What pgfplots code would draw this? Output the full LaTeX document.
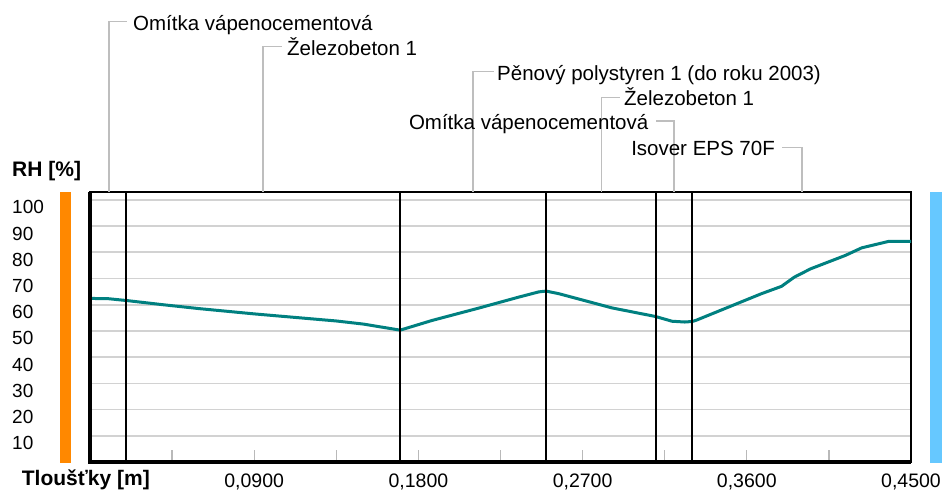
\documentclass[border=0pt]{standalone}
\usepackage{fontspec}
\setmainfont{Liberation Sans}
\usepackage{pgfplots}
\pgfplotsset{compat=1.18}
\definecolor{curve}{RGB}{0,128,128}
\definecolor{orangebar}{RGB}{255,136,0}
\definecolor{bluebar}{RGB}{102,200,255}
\definecolor{leader}{RGB}{190,190,190}
\definecolor{gridc}{RGB}{210,210,210}
\definecolor{tickc}{RGB}{185,185,185}
\begin{document}
\begin{tikzpicture}[x=1pt,y=1pt]
\useasboundingbox (0,0) rectangle (944,490);
\fill[white] (0,0) rectangle (944,490);
\begin{axis}[
  at={(90pt,28pt)}, anchor=south west,
  scale only axis, width=821pt, height=270pt,
  xmin=0, xmax=0.45, ymin=0, ymax=103,
  clip=false,
  axis line style={black, line width=1.6pt},
  xtick={0.09,0.18,0.27,0.36,0.45},
  xticklabels={{0,0900},{0,1800},{0,2700},{0,3600},{0,4500}},
  xtick pos=left, ytick pos=left,
  major tick length=0pt,
  ytick={10,20,30,40,50,60,70,80,90,100},
  yticklabels={10,20,30,40,50,60,70,80,90,100},
  ymajorgrids,
  major grid style={draw=gridc, line width=1.6pt},
  xticklabel style={anchor=base, inner sep=0pt, yshift=-25pt, font=\fontsize{19.5}{20}\selectfont},
  yticklabel style={anchor=base west, inner sep=0pt, xshift=-78pt, yshift=-14pt, font=\fontsize{19}{20}\selectfont},
]
% small grey tick marks along the bottom
\addplot[ycomb, tickc, line width=1.3pt, mark=none] coordinates {
(0.045,4.5) (0.090,4.5) (0.135,4.5) (0.180,4.5) (0.225,4.5) (0.270,4.5) (0.315,4.5) (0.360,4.5) (0.405,4.5)
};
\addplot[color=curve, line width=3pt] coordinates {
(0.000,62.4) (0.010,62.3) (0.020,61.6) (0.040,60.0) (0.060,58.5) (0.090,56.5) (0.115,55.0)
(0.135,53.8) (0.150,52.6) (0.170,50.3)
(0.1875,54.0) (0.213,58.7) (0.235,62.9) (0.246,64.9) (0.250,65.2)
(0.257,64.2) (0.286,58.8) (0.310,55.5) (0.319,53.7) (0.326,53.4) (0.330,53.6)
(0.332,54.0) (0.350,59.1) (0.368,64.2) (0.379,67.0) (0.386,70.5) (0.395,73.7)
(0.414,78.8) (0.423,81.7) (0.432,83.2) (0.438,84.2) (0.450,84.2)
};
\addplot[ycomb, black, line width=2pt, mark=none] coordinates {
(0.02,103) (0.17,103) (0.25,103) (0.31,103) (0.33,103)
};
\draw[black, line width=3.5pt] (rel axis cs:0,1) -- (rel axis cs:0,0) -- (rel axis cs:1,0);
\end{axis}
% colour bars
\fill[orangebar] (60,27) rectangle (71,298);
\fill[bluebar] (930,27) rectangle (941.5,297.5);
% axis titles
\node[anchor=base west, inner sep=0pt, font=\bfseries\fontsize{21}{22}\selectfont] at (12,313.3) {RH [\%]};
\node[anchor=base west, inner sep=0pt, font=\bfseries\fontsize{21}{22}\selectfont] at (21.7,5) {Tloušťky [m]};
% layer labels
\begin{scope}[leader, line width=1.5pt]
\draw (109,298) -- (109,468.3) -- (127,468.3);
\draw (263,298) -- (263,443.3) -- (282,443.3);
\draw (473,298) -- (473,418.3) -- (494,418.3);
\draw (601.5,298) -- (601.5,392.7) -- (620,392.7);
\draw (674,298) -- (674,369) -- (656,369);
\draw (802,298) -- (802,342.7) -- (782,342.7);
\end{scope}
\begin{scope}[every node/.style={inner sep=0pt, font=\fontsize{20.5}{22}\selectfont}]
\node[anchor=base west] at (133,459.5) {Omítka vápenocementová};
\node[anchor=base west] at (287,434.5) {Železobeton 1};
\node[anchor=base west] at (497,409.8) {Pěnový polystyren 1 (do roku 2003)};
\node[anchor=base west] at (624,384.2) {Železobeton 1};
\node[anchor=base east] at (648.5,360.5) {Omítka vápenocementová};
\node[anchor=base east] at (775,334.2) {Isover EPS 70F};
\end{scope}
\end{tikzpicture}
\end{document}
